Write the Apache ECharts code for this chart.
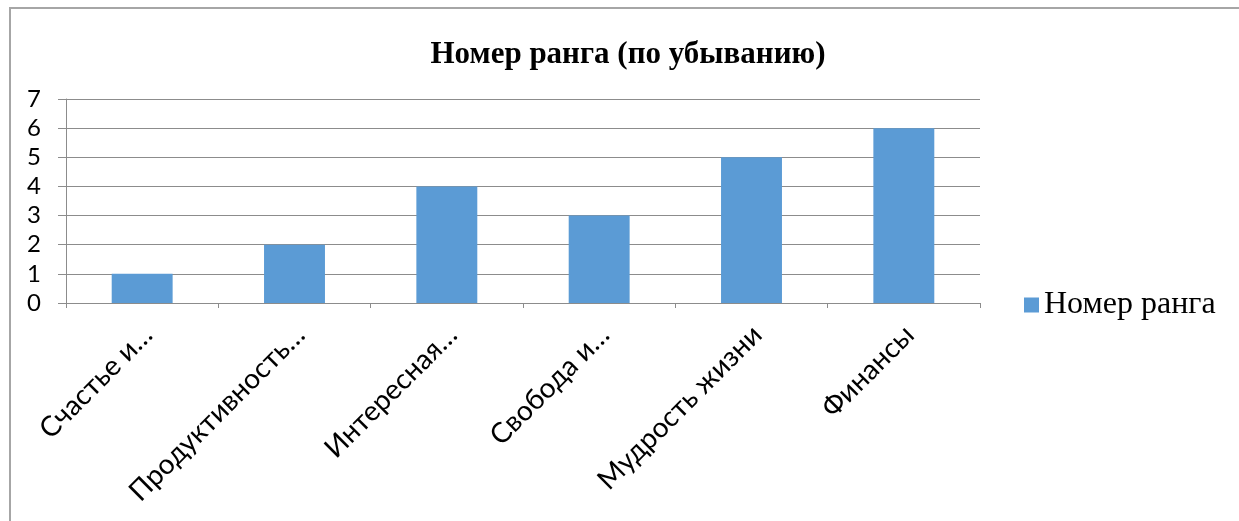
<!DOCTYPE html>
<html>
<head>
<meta charset="utf-8">
<script src="https://cdn.jsdelivr.net/npm/echarts@6/dist/echarts.min.js"></script>
<style>
  html, body { margin: 0; padding: 0; background: #fff; }
  #main { width: 1239px; height: 521px; }
</style>
</head>
<body>
<div id="main"></div>
<script>
const categories = ['Счастье и…', 'Продуктивность…', 'Интересная…', 'Свобода и…', 'Мудрость жизни', 'Финансы']
const rankValues = [1, 2, 4, 3, 5, 6]
const seriesName = 'Номер ранга'
const chartTitle = 'Номер ранга (по убыванию)'

var myChart = echarts.init(document.getElementById('main'))

myChart.setOption({
    animation: false,
    title: {
        text: chartTitle,
        left: 623,
        textAlign: 'center',
        top: 34,
        textStyle: {
            fontFamily: 'Liberation Serif',
            fontWeight: 'bold',
            fontSize: 31,
            color: '#000'
        }
    },
    legend: {
        data: [seriesName],
        left: 1019,
        top: 284,
        itemWidth: 15,
        itemHeight: 15,
        itemGap: 8,
        icon: 'rect',
        textStyle: {
            fontFamily: 'Liberation Serif',
            fontSize: 32,
            color: '#000'
        }
    },
    grid: {
        left: 66,
        right: 259,
        top: 99,
        height: 204
    },
    xAxis: {
        type: 'category',
        data: categories,
        axisLine: { lineStyle: { color: '#8c8c8c', width: 1 } },
        axisTick: { show: true, length: 5, lineStyle: { color: '#8c8c8c' } },
        axisLabel: {
            rotate: 45,
            interval: 0,
            margin: 33,
            padding: [0, -8, 0, 0],
            fontFamily: 'Lato',
            fontSize: 28,
            color: '#000'
        }
    },
    yAxis: {
        type: 'value',
        min: 0,
        max: 7,
        interval: 1,
        axisLine: { show: true, lineStyle: { color: '#8c8c8c' } },
        axisTick: { show: true, length: 8, lineStyle: { color: '#8c8c8c' } },
        splitLine: { lineStyle: { color: '#8c8c8c', width: 1 } },
        axisLabel: {
            margin: 25,
            fontFamily: 'Lato',
            fontSize: 24,
            color: '#000'
        }
    },
    graphic: [{
        type: 'rect',
        shape: { x: 10, y: 8, width: 1250, height: 540 },
        style: { fill: 'none', stroke: '#a6a6a6', lineWidth: 2 },
        silent: true
    }],
    series: [{
        name: seriesName,
        type: 'bar',
        data: rankValues,
        barCategoryGap: '60%',
        itemStyle: { color: '#5b9bd5' }
    }]
})
</script>
</body>
</html>
